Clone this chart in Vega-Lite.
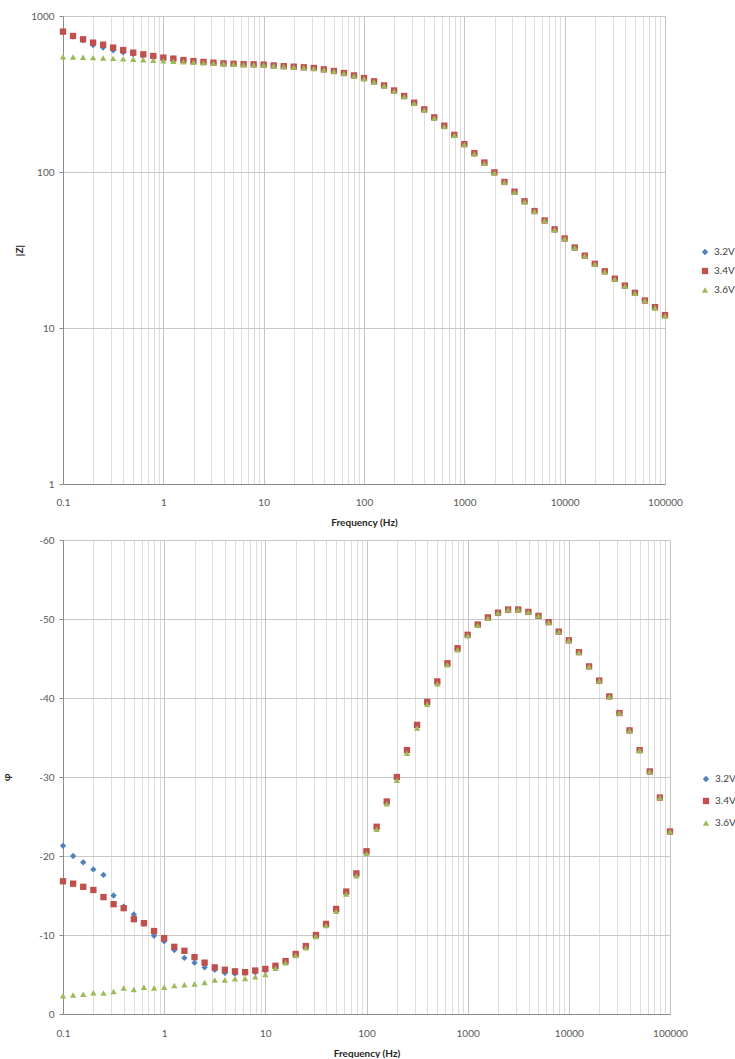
{
"$schema": "https://vega.github.io/schema/vega-lite/v6.json",
"background": "white",
"padding": {"left": 1, "top": 11, "right": 5, "bottom": 0},
"spacing": 8,
"config": {
  "font": "Lato",
  "view": {"stroke": null},
  "axis": {"labelFont": "Lato", "labelFontSize": 10, "labelColor": "#595959", "titleFont": "Lato", "titleFontSize": 10, "titleFontWeight": "bold", "titleColor": "#262626", "domainColor": "#8c8c8c", "tickColor": "#8c8c8c", "gridColor": "#D0D0D0", "gridWidth": 1},
  "legend": {"labelFont": "Lato", "labelFontSize": 10, "labelColor": "#404040", "padding": 0, "symbolStrokeWidth": 0}
},
"resolve": {"scale": {"color": "independent", "shape": "independent"}},
"data": {"values": [
{"V":"3.2V","f":0.1,"Z":788,"phi":-21.3},{"V":"3.2V","f":0.1259,"Z":738,"phi":-20.0},{"V":"3.2V","f":0.1585,"Z":698,"phi":-19.2},{"V":"3.2V","f":0.1995,"Z":652,"phi":-18.3},{"V":"3.2V","f":0.2512,"Z":628,"phi":-17.6},{"V":"3.2V","f":0.3162,"Z":603,"phi":-15.0},{"V":"3.2V","f":0.3981,"Z":584,"phi":-13.6},{"V":"3.2V","f":0.5012,"Z":569,"phi":-12.6},{"V":"3.2V","f":0.631,"Z":558,"phi":-11.4},{"V":"3.2V","f":0.7943,"Z":549,"phi":-9.9},
{"V":"3.2V","f":1,"Z":540,"phi":-9.2},{"V":"3.2V","f":1.259,"Z":532,"phi":-8.1},{"V":"3.2V","f":1.585,"Z":521,"phi":-7.1},{"V":"3.2V","f":1.995,"Z":513,"phi":-6.5},{"V":"3.2V","f":2.512,"Z":507,"phi":-5.9},{"V":"3.2V","f":3.162,"Z":501,"phi":-5.6},{"V":"3.2V","f":3.981,"Z":496,"phi":-5.2},{"V":"3.2V","f":5.012,"Z":493,"phi":-5.1},{"V":"3.2V","f":6.31,"Z":490,"phi":-5.2},{"V":"3.2V","f":7.943,"Z":489,"phi":-5.3},
{"V":"3.2V","f":10,"Z":487,"phi":-5.5},{"V":"3.2V","f":12.59,"Z":481,"phi":-6.0},{"V":"3.2V","f":15.85,"Z":476,"phi":-6.6},{"V":"3.2V","f":19.95,"Z":472,"phi":-7.5},{"V":"3.2V","f":25.12,"Z":468,"phi":-8.5},{"V":"3.2V","f":31.62,"Z":463,"phi":-9.9},{"V":"3.2V","f":39.81,"Z":454,"phi":-11.3},{"V":"3.2V","f":50.12,"Z":443,"phi":-13.2},{"V":"3.2V","f":63.1,"Z":430,"phi":-15.4},{"V":"3.2V","f":79.43,"Z":415,"phi":-17.7},
{"V":"3.2V","f":100,"Z":399,"phi":-20.5},{"V":"3.2V","f":125.9,"Z":380,"phi":-23.6},{"V":"3.2V","f":158.5,"Z":358,"phi":-26.8},{"V":"3.2V","f":199.5,"Z":332,"phi":-29.9},{"V":"3.2V","f":251.2,"Z":306,"phi":-33.3},{"V":"3.2V","f":316.2,"Z":277,"phi":-36.5},{"V":"3.2V","f":398.1,"Z":251,"phi":-39.4},{"V":"3.2V","f":501.2,"Z":223,"phi":-42.0},{"V":"3.2V","f":631,"Z":197,"phi":-44.3},{"V":"3.2V","f":794.3,"Z":172,"phi":-46.2},
{"V":"3.2V","f":1000,"Z":150,"phi":-47.9},{"V":"3.2V","f":1259,"Z":131,"phi":-49.2},{"V":"3.2V","f":1585,"Z":114.5,"phi":-50.1},{"V":"3.2V","f":1995,"Z":99.2,"phi":-50.7},{"V":"3.2V","f":2512,"Z":86.1,"phi":-51.1},{"V":"3.2V","f":3162,"Z":74.6,"phi":-51.2},{"V":"3.2V","f":3981,"Z":64.8,"phi":-50.9},{"V":"3.2V","f":5012,"Z":56.1,"phi":-50.4},{"V":"3.2V","f":6310,"Z":48.8,"phi":-49.6},{"V":"3.2V","f":7943,"Z":42.8,"phi":-48.4},
{"V":"3.2V","f":10000,"Z":37.4,"phi":-47.3},{"V":"3.2V","f":12589,"Z":32.7,"phi":-45.8},{"V":"3.2V","f":15849,"Z":29.0,"phi":-44.0},{"V":"3.2V","f":19953,"Z":25.7,"phi":-42.2},{"V":"3.2V","f":25119,"Z":23.0,"phi":-40.2},{"V":"3.2V","f":31623,"Z":20.6,"phi":-38.1},{"V":"3.2V","f":39811,"Z":18.6,"phi":-35.9},{"V":"3.2V","f":50119,"Z":16.7,"phi":-33.4},{"V":"3.2V","f":63096,"Z":15.0,"phi":-30.7},{"V":"3.2V","f":79433,"Z":13.5,"phi":-27.4},{"V":"3.2V","f":100000,"Z":12.0,"phi":-23.1},
{"V":"3.4V","f":0.1,"Z":794,"phi":-16.8},{"V":"3.4V","f":0.1259,"Z":745,"phi":-16.5},{"V":"3.4V","f":0.1585,"Z":709,"phi":-16.1},{"V":"3.4V","f":0.1995,"Z":675,"phi":-15.7},{"V":"3.4V","f":0.2512,"Z":655,"phi":-14.8},{"V":"3.4V","f":0.3162,"Z":627,"phi":-13.9},{"V":"3.4V","f":0.3981,"Z":605,"phi":-13.4},{"V":"3.4V","f":0.5012,"Z":582,"phi":-12.0},{"V":"3.4V","f":0.631,"Z":568,"phi":-11.5},{"V":"3.4V","f":0.7943,"Z":554,"phi":-10.5},
{"V":"3.4V","f":1,"Z":541,"phi":-9.6},{"V":"3.4V","f":1.259,"Z":533,"phi":-8.5},{"V":"3.4V","f":1.585,"Z":522,"phi":-8.0},{"V":"3.4V","f":1.995,"Z":514,"phi":-7.2},{"V":"3.4V","f":2.512,"Z":508,"phi":-6.5},{"V":"3.4V","f":3.162,"Z":502,"phi":-5.9},{"V":"3.4V","f":3.981,"Z":497,"phi":-5.6},{"V":"3.4V","f":5.012,"Z":494,"phi":-5.4},{"V":"3.4V","f":6.31,"Z":491,"phi":-5.3},{"V":"3.4V","f":7.943,"Z":490,"phi":-5.5},
{"V":"3.4V","f":10,"Z":488,"phi":-5.7},{"V":"3.4V","f":12.59,"Z":482,"phi":-6.1},{"V":"3.4V","f":15.85,"Z":477,"phi":-6.7},{"V":"3.4V","f":19.95,"Z":473,"phi":-7.6},{"V":"3.4V","f":25.12,"Z":469,"phi":-8.6},{"V":"3.4V","f":31.62,"Z":464,"phi":-10.0},{"V":"3.4V","f":39.81,"Z":455,"phi":-11.4},{"V":"3.4V","f":50.12,"Z":444,"phi":-13.3},{"V":"3.4V","f":63.1,"Z":431,"phi":-15.5},{"V":"3.4V","f":79.43,"Z":416,"phi":-17.8},
{"V":"3.4V","f":100,"Z":400,"phi":-20.6},{"V":"3.4V","f":125.9,"Z":381,"phi":-23.7},{"V":"3.4V","f":158.5,"Z":359,"phi":-26.9},{"V":"3.4V","f":199.5,"Z":333,"phi":-30.0},{"V":"3.4V","f":251.2,"Z":307,"phi":-33.4},{"V":"3.4V","f":316.2,"Z":278,"phi":-36.6},{"V":"3.4V","f":398.1,"Z":252,"phi":-39.5},{"V":"3.4V","f":501.2,"Z":224,"phi":-42.1},{"V":"3.4V","f":631,"Z":198,"phi":-44.4},{"V":"3.4V","f":794.3,"Z":173,"phi":-46.3},
{"V":"3.4V","f":1000,"Z":151,"phi":-48.0},{"V":"3.4V","f":1259,"Z":132,"phi":-49.3},{"V":"3.4V","f":1585,"Z":115,"phi":-50.2},{"V":"3.4V","f":1995,"Z":99.5,"phi":-50.8},{"V":"3.4V","f":2512,"Z":86.3,"phi":-51.2},{"V":"3.4V","f":3162,"Z":74.8,"phi":-51.2},{"V":"3.4V","f":3981,"Z":64.9,"phi":-50.9},{"V":"3.4V","f":5012,"Z":56.2,"phi":-50.4},{"V":"3.4V","f":6310,"Z":48.9,"phi":-49.6},{"V":"3.4V","f":7943,"Z":42.9,"phi":-48.4},
{"V":"3.4V","f":10000,"Z":37.5,"phi":-47.3},{"V":"3.4V","f":12589,"Z":32.8,"phi":-45.8},{"V":"3.4V","f":15849,"Z":29.1,"phi":-44.0},{"V":"3.4V","f":19953,"Z":25.8,"phi":-42.2},{"V":"3.4V","f":25119,"Z":23.1,"phi":-40.2},{"V":"3.4V","f":31623,"Z":20.7,"phi":-38.1},{"V":"3.4V","f":39811,"Z":18.7,"phi":-35.9},{"V":"3.4V","f":50119,"Z":16.8,"phi":-33.4},{"V":"3.4V","f":63096,"Z":15.0,"phi":-30.7},{"V":"3.4V","f":79433,"Z":13.6,"phi":-27.4},{"V":"3.4V","f":100000,"Z":12.1,"phi":-23.1},
{"V":"3.6V","f":0.1,"Z":548,"phi":-2.3},{"V":"3.6V","f":0.1259,"Z":546,"phi":-2.4},{"V":"3.6V","f":0.1585,"Z":544,"phi":-2.5},{"V":"3.6V","f":0.1995,"Z":541,"phi":-2.7},{"V":"3.6V","f":0.2512,"Z":538,"phi":-2.65},{"V":"3.6V","f":0.3162,"Z":535,"phi":-2.85},{"V":"3.6V","f":0.3981,"Z":531,"phi":-3.3},{"V":"3.6V","f":0.5012,"Z":528,"phi":-3.1},{"V":"3.6V","f":0.631,"Z":524,"phi":-3.4},{"V":"3.6V","f":0.7943,"Z":520,"phi":-3.3},
{"V":"3.6V","f":1,"Z":517,"phi":-3.4},{"V":"3.6V","f":1.259,"Z":513,"phi":-3.6},{"V":"3.6V","f":1.585,"Z":509,"phi":-3.7},{"V":"3.6V","f":1.995,"Z":505,"phi":-3.8},{"V":"3.6V","f":2.512,"Z":502,"phi":-4.0},{"V":"3.6V","f":3.162,"Z":498,"phi":-4.3},{"V":"3.6V","f":3.981,"Z":494,"phi":-4.3},{"V":"3.6V","f":5.012,"Z":491,"phi":-4.45},{"V":"3.6V","f":6.31,"Z":489,"phi":-4.5},{"V":"3.6V","f":7.943,"Z":487,"phi":-4.7},
{"V":"3.6V","f":10,"Z":485,"phi":-5.0},{"V":"3.6V","f":12.59,"Z":480,"phi":-5.8},{"V":"3.6V","f":15.85,"Z":475,"phi":-6.5},{"V":"3.6V","f":19.95,"Z":471,"phi":-7.4},{"V":"3.6V","f":25.12,"Z":467,"phi":-8.4},{"V":"3.6V","f":31.62,"Z":462,"phi":-9.8},{"V":"3.6V","f":39.81,"Z":453,"phi":-11.2},{"V":"3.6V","f":50.12,"Z":442,"phi":-13.0},{"V":"3.6V","f":63.1,"Z":429,"phi":-15.2},{"V":"3.6V","f":79.43,"Z":414,"phi":-17.5},
{"V":"3.6V","f":100,"Z":398,"phi":-20.3},{"V":"3.6V","f":125.9,"Z":379,"phi":-23.4},{"V":"3.6V","f":158.5,"Z":357,"phi":-26.6},{"V":"3.6V","f":199.5,"Z":331,"phi":-29.6},{"V":"3.6V","f":251.2,"Z":305,"phi":-33.0},{"V":"3.6V","f":316.2,"Z":276,"phi":-36.2},{"V":"3.6V","f":398.1,"Z":250,"phi":-39.2},{"V":"3.6V","f":501.2,"Z":222,"phi":-41.8},{"V":"3.6V","f":631,"Z":196,"phi":-44.2},{"V":"3.6V","f":794.3,"Z":172,"phi":-46.1},
{"V":"3.6V","f":1000,"Z":150,"phi":-47.9},{"V":"3.6V","f":1259,"Z":131,"phi":-49.2},{"V":"3.6V","f":1585,"Z":114,"phi":-50.1},{"V":"3.6V","f":1995,"Z":99,"phi":-50.8},{"V":"3.6V","f":2512,"Z":86,"phi":-51.2},{"V":"3.6V","f":3162,"Z":74.5,"phi":-51.2},{"V":"3.6V","f":3981,"Z":64.7,"phi":-50.9},{"V":"3.6V","f":5012,"Z":56,"phi":-50.4},{"V":"3.6V","f":6310,"Z":48.8,"phi":-49.6},{"V":"3.6V","f":7943,"Z":42.8,"phi":-48.4},
{"V":"3.6V","f":10000,"Z":37.4,"phi":-47.3},{"V":"3.6V","f":12589,"Z":32.7,"phi":-45.8},{"V":"3.6V","f":15849,"Z":29.0,"phi":-44.0},{"V":"3.6V","f":19953,"Z":25.7,"phi":-42.2},{"V":"3.6V","f":25119,"Z":23.0,"phi":-40.2},{"V":"3.6V","f":31623,"Z":20.6,"phi":-38.1},{"V":"3.6V","f":39811,"Z":18.6,"phi":-35.9},{"V":"3.6V","f":50119,"Z":16.7,"phi":-33.4},{"V":"3.6V","f":63096,"Z":15.0,"phi":-30.7},{"V":"3.6V","f":79433,"Z":13.5,"phi":-27.4},{"V":"3.6V","f":100000,"Z":12.0,"phi":-23.1}
]},
"vconcat": [
{
  "width": 602, "height": 468,
  "mark": {"type": "point", "filled": true, "size": 40, "opacity": 1},
  "encoding": {
    "x": {"field": "f", "type": "quantitative",
      "scale": {"type": "log", "domain": [0.1, 100000], "nice": false},
      "axis": {"title": "Frequency (Hz)", "ticks": false, "labelPadding": 13, "titlePadding": 10, "labelFlush": false,
        "values": [0.1,0.2,0.3,0.4,0.5,0.6,0.7,0.8,0.9,1,2,3,4,5,6,7,8,9,10,20,30,40,50,60,70,80,90,100,200,300,400,500,600,700,800,900,1000,2000,3000,4000,5000,6000,7000,8000,9000,10000,20000,30000,40000,50000,60000,70000,80000,90000,100000],
        "labelExpr": "indexof([0.1,1,10,100,1000,10000,100000], datum.value) >= 0 ? '' + datum.value : ''",
        "gridColor": {"condition": {"test": "indexof([0.1,1,10,100,1000,10000,100000], datum.value) >= 0", "value": "#C4C4C4"}, "value": "#DEDEDE"}}},
    "y": {"field": "Z", "type": "quantitative",
      "scale": {"type": "log", "domain": [1, 1000], "nice": false},
      "axis": {"title": "|Z|", "values": [1, 10, 100, 1000], "labelExpr": "'' + datum.value", "tickSize": 4, "labelPadding": 5, "titlePadding": 6, "gridColor": "#C8C8C8"}},
    "color": {"field": "V", "type": "nominal",
      "scale": {"domain": ["3.2V", "3.4V", "3.6V"], "range": ["#4F81BD", "#C0504D", "#9BBB59"]},
      "legend": {"title": null, "orient": "none", "legendX": 637, "legendY": 231, "rowPadding": 9, "symbolSize": 40, "labelOffset": 4}},
    "shape": {"field": "V", "type": "nominal",
      "scale": {"domain": ["3.2V", "3.4V", "3.6V"], "range": ["diamond", "square", "triangle-up"]},
      "legend": {"title": null, "orient": "none", "legendX": 637, "legendY": 231, "rowPadding": 9, "symbolSize": 40, "labelOffset": 4}}
  }
},
{
  "width": 607, "height": 474,
  "mark": {"type": "point", "filled": true, "size": 40, "opacity": 1},
  "encoding": {
    "x": {"field": "f", "type": "quantitative",
      "scale": {"type": "log", "domain": [0.1, 100000], "nice": false},
      "axis": {"title": "Frequency (Hz)", "ticks": false, "labelPadding": 14, "titlePadding": 10, "labelFlush": false,
        "values": [0.1,0.2,0.3,0.4,0.5,0.6,0.7,0.8,0.9,1,2,3,4,5,6,7,8,9,10,20,30,40,50,60,70,80,90,100,200,300,400,500,600,700,800,900,1000,2000,3000,4000,5000,6000,7000,8000,9000,10000,20000,30000,40000,50000,60000,70000,80000,90000,100000],
        "labelExpr": "indexof([0.1,1,10,100,1000,10000,100000], datum.value) >= 0 ? '' + datum.value : ''",
        "gridColor": {"condition": {"test": "indexof([0.1,1,10,100,1000,10000,100000], datum.value) >= 0", "value": "#C4C4C4"}, "value": "#DEDEDE"}}},
    "y": {"field": "phi", "type": "quantitative",
      "scale": {"domain": [-60, 0], "reverse": true, "nice": false},
      "axis": {"title": "φ", "values": [0, -10, -20, -30, -40, -50, -60], "labelExpr": "'' + datum.value", "tickSize": 4, "labelPadding": 5, "titlePadding": 27, "gridColor": "#C8C8C8"}},
    "color": {"field": "V", "type": "nominal",
      "scale": {"domain": ["3.2V", "3.4V", "3.6V"], "range": ["#4F81BD", "#C0504D", "#9BBB59"]},
      "legend": {"title": null, "orient": "none", "legendX": 638, "legendY": 234, "rowPadding": 12, "symbolSize": 40, "labelOffset": 4}},
    "shape": {"field": "V", "type": "nominal",
      "scale": {"domain": ["3.2V", "3.4V", "3.6V"], "range": ["diamond", "square", "triangle-up"]},
      "legend": {"title": null, "orient": "none", "legendX": 638, "legendY": 234, "rowPadding": 12, "symbolSize": 40, "labelOffset": 4}}
  }
}
]
}
